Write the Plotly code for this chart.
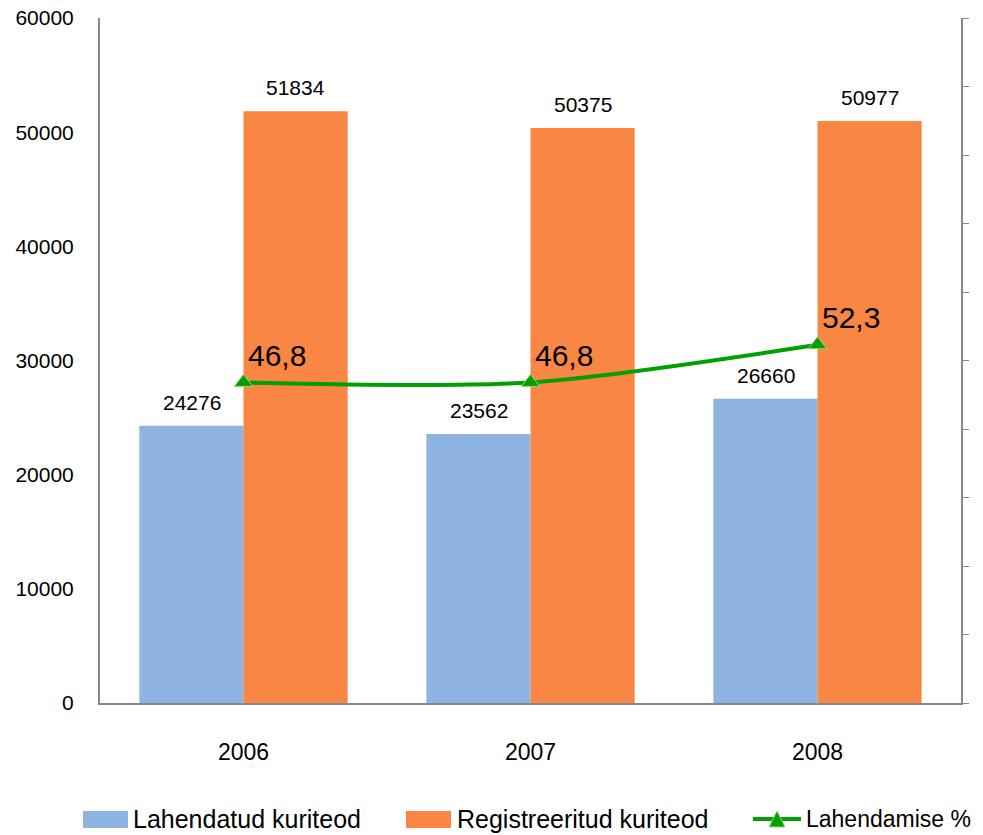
import plotly.graph_objects as go

years = ["2006", "2007", "2008"]
lahendatud = [24276, 23562, 26660]
registreeritud = [51834, 50375, 50977]
lahendamise_pct = [46.8, 46.8, 52.3]

names = ["Lahendatud kuriteod", "Registreeritud kuriteod", "Lahendamise %"]
FONT = "Liberation Sans, Arial"
BLUE, ORANGE, GREEN = "#8EB4E3", "#F98743", "#00A000"

W, H = 983, 835
ML, MR, MT, MB = 100, 22, 18, 132
PW, PH = W - ML - MR, H - MT - MB


def px(x):
    return (x - ML) / PW


def py(y):
    return (H - MB - y) / PH


fig = go.Figure()
fig.add_trace(go.Bar(x=years, y=lahendatud, name=names[0], marker_color=BLUE,
                     marker_line_width=0, showlegend=False))
fig.add_trace(go.Bar(x=years, y=registreeritud, name=names[1], marker_color=ORANGE,
                     marker_line_width=0, showlegend=False))
fig.add_trace(go.Scatter(
    x=years, y=lahendamise_pct, name=names[2], yaxis="y2",
    mode="lines+markers", showlegend=False,
    line=dict(color=GREEN, width=4, shape="spline", smoothing=0.8),
    marker=dict(symbol="triangle-up", size=16, color=GREEN,
                line=dict(color="#9BD37A", width=1)),
))

for i, yr in enumerate(years):
    # category index i is the position of years[i] on the category axis
    fig.add_annotation(x=i, y=lahendatud[i], text=str(lahendatud[i]), showarrow=False,
                       xshift=-52, yanchor="bottom", yshift=10,
                       font=dict(size=21, color="#000000", family=FONT))
    fig.add_annotation(x=i, y=registreeritud[i], text=str(registreeritud[i]), showarrow=False,
                       xshift=52, yanchor="bottom", yshift=10,
                       font=dict(size=21, color="#000000", family=FONT))
    fig.add_annotation(x=i, y=lahendamise_pct[i], yref="y2",
                       text=f"{lahendamise_pct[i]:.1f}".replace(".", ","), showarrow=False,
                       xanchor="left", yanchor="middle", xshift=2, yshift=27,
                       font=dict(size=30, color="#000000", family=FONT))

# legend drawn by hand (large swatches as in the reference)
LEG_Y = 819
fig.add_shape(type="rect", xref="paper", yref="paper", x0=px(83), x1=px(128),
              y0=py(828), y1=py(811), fillcolor=BLUE, line_width=0)
fig.add_shape(type="rect", xref="paper", yref="paper", x0=px(406), x1=px(451),
              y0=py(828), y1=py(811), fillcolor=ORANGE, line_width=0)
fig.add_shape(type="line", xref="paper", yref="paper", x0=px(753), x1=px(801),
              y0=py(LEG_Y), y1=py(LEG_Y), line=dict(color=GREEN, width=4))
fig.add_shape(type="path", xref="paper", yref="paper",
              path=(f"M {px(769)} {py(827)} L {px(785)} {py(827)} "
                    f"L {px(777)} {py(811)} Z"),
              fillcolor=GREEN, line=dict(color="#9BD37A", width=1))
for xpos, name, fs in zip([131, 455, 804], names, [25, 25, 23]):
    fig.add_annotation(xref="paper", yref="paper", x=px(xpos), y=py(LEG_Y),
                       text=name, showarrow=False, xanchor="left", yanchor="middle",
                       font=dict(size=fs, color="#000000", family=FONT))

fig.update_layout(
    width=W, height=H,
    margin=dict(l=ML, r=MR, t=MT, b=MB),
    paper_bgcolor="white", plot_bgcolor="white",
    barmode="group", bargap=0.274, bargroupgap=0,
    font=dict(family=FONT, size=21, color="#000000"),
    showlegend=False,
    xaxis=dict(type="category", range=[-0.5, 2.5], showline=True, linecolor="#888888",
               linewidth=2, ticks="", showgrid=False, tickfont=dict(size=23),
               ticklabelstandoff=27, automargin=False),
    yaxis=dict(range=[0, 60000], dtick=10000, tickformat="d", showline=True,
               linecolor="#888888", linewidth=2, ticks="", showgrid=False,
               zeroline=False, tickfont=dict(size=21), ticklabelstandoff=20,
               automargin=False),
    yaxis2=dict(range=[0, 100], dtick=10, overlaying="y", side="right",
                showline=True, linecolor="#888888", linewidth=2, ticks="outside",
                ticklen=6, tickcolor="#888888", showticklabels=False,
                showgrid=False, zeroline=False, automargin=False),
)

fig.write_html("out.html", config={"displayModeBar": False},
               post_script="document.body.style.margin='0';document.body.style.overflow='hidden';")
